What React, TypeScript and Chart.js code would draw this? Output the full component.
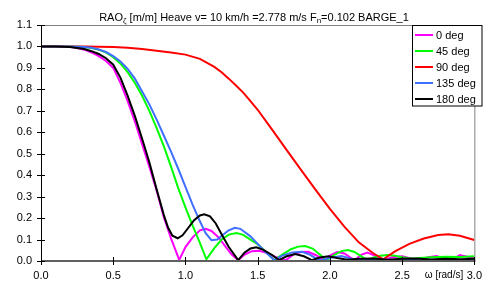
import React, { useEffect, useRef } from "react";
import { Chart, registerables } from "chart.js";

Chart.register(...registerables);

// ---------- data ----------
const seriesLabels = ["0 deg", "45 deg", "90 deg", "135 deg", "180 deg"];
const seriesColors = ["#ff00ff", "#00ff00", "#ff0000", "#3f6fff", "#000000"];

const omega0 = [0, 0.1, 0.2, 0.25, 0.3, 0.35, 0.4, 0.45, 0.5, 0.55, 0.6, 0.65, 0.7, 0.75, 0.8, 0.85, 0.9, 0.957, 1.0, 1.05, 1.1, 1.14, 1.18, 1.23, 1.28, 1.32, 1.365, 1.41, 1.46, 1.51, 1.56, 1.62, 1.694, 1.75, 1.8, 1.85, 1.9, 1.966, 2.0, 2.05, 2.1, 2.17, 2.22, 2.26, 2.31, 2.37, 2.43, 2.5, 2.56, 2.62, 2.68, 2.74, 2.8, 2.84, 2.9, 2.95, 3.0];
const rao0 = [1.0, 1.0, 0.998, 0.993, 0.985, 0.972, 0.955, 0.932, 0.9, 0.83, 0.745, 0.65, 0.545, 0.44, 0.33, 0.205, 0.105, 0.005, 0.065, 0.11, 0.143, 0.15, 0.14, 0.11, 0.065, 0.03, 0.004, 0.03, 0.046, 0.048, 0.038, 0.02, 0.003, 0.032, 0.042, 0.043, 0.028, 0.003, 0.025, 0.042, 0.035, 0.003, 0.03, 0.039, 0.025, 0.003, 0.018, 0.022, 0.012, 0.004, 0.018, 0.023, 0.008, 0.004, 0.028, 0.02, 0.012];

const omega45 = [0, 0.2, 0.3, 0.35, 0.4, 0.45, 0.5, 0.55, 0.6, 0.65, 0.7, 0.75, 0.8, 0.85, 0.9, 0.95, 1.0, 1.05, 1.1, 1.145, 1.2, 1.25, 1.3, 1.354, 1.4, 1.45, 1.5, 1.56, 1.615, 1.67, 1.73, 1.78, 1.83, 1.88, 1.93, 1.978, 2.03, 2.08, 2.125, 2.17, 2.22, 2.26, 2.3, 2.35, 2.4, 2.45, 2.5, 2.55, 2.6, 2.7, 2.8, 2.9, 3.0];
const rao45 = [1.0, 1.0, 0.997, 0.993, 0.985, 0.972, 0.95, 0.92, 0.88, 0.83, 0.77, 0.7, 0.62, 0.535, 0.44, 0.34, 0.25, 0.165, 0.085, 0.008, 0.06, 0.1, 0.123, 0.13, 0.122, 0.1, 0.078, 0.04, 0.004, 0.03, 0.055, 0.067, 0.07, 0.058, 0.03, 0.003, 0.028, 0.046, 0.051, 0.042, 0.02, 0.003, 0.015, 0.025, 0.028, 0.024, 0.017, 0.012, 0.013, 0.017, 0.02, 0.019, 0.022];

const omega90 = [0, 0.3, 0.5, 0.6, 0.7, 0.8, 0.9, 1.0, 1.1, 1.2, 1.25, 1.3, 1.35, 1.4, 1.45, 1.5, 1.6, 1.7, 1.8, 1.9, 2.0, 2.1, 2.2, 2.3, 2.37, 2.45, 2.55, 2.65, 2.75, 2.82, 2.9, 3.0];
const rao90 = [1.0, 1.0, 0.998, 0.994, 0.988, 0.98, 0.972, 0.962, 0.942, 0.905, 0.88, 0.85, 0.818, 0.785, 0.745, 0.705, 0.612, 0.518, 0.425, 0.333, 0.243, 0.16, 0.087, 0.036, 0.008, 0.045, 0.08, 0.105, 0.121, 0.125, 0.118, 0.098];

const omega135 = [0, 0.2, 0.3, 0.35, 0.4, 0.45, 0.5, 0.55, 0.6, 0.65, 0.7, 0.75, 0.8, 0.85, 0.9, 0.95, 1.0, 1.05, 1.1, 1.14, 1.18, 1.22, 1.26, 1.3, 1.342, 1.38, 1.45, 1.5, 1.56, 1.615, 1.67, 1.74, 1.807, 1.86, 1.9, 1.94, 2.0, 2.08, 2.14, 2.2, 2.3, 2.4, 2.5, 2.6, 2.7, 2.8, 2.9, 3.0];
const rao135 = [1.0, 1.0, 0.998, 0.994, 0.986, 0.974, 0.955, 0.93, 0.895, 0.85, 0.79, 0.73, 0.66, 0.585, 0.51, 0.43, 0.345, 0.262, 0.185, 0.13, 0.097, 0.1, 0.122, 0.143, 0.155, 0.15, 0.115, 0.08, 0.038, 0.004, 0.025, 0.04, 0.043, 0.03, 0.014, 0.003, 0.015, 0.023, 0.012, 0.004, 0.009, 0.005, 0.008, 0.005, 0.006, 0.008, 0.005, 0.005];

const omega180 = [0, 0.1, 0.2, 0.3, 0.35, 0.4, 0.45, 0.5, 0.55, 0.6, 0.65, 0.7, 0.75, 0.8, 0.85, 0.88, 0.91, 0.946, 0.98, 1.02, 1.06, 1.1, 1.13, 1.17, 1.21, 1.25, 1.3, 1.365, 1.41, 1.45, 1.49, 1.54, 1.6, 1.648, 1.7, 1.76, 1.82, 1.875, 1.93, 1.99, 2.05, 2.12, 2.2, 2.3, 2.4, 2.5, 2.6, 2.7, 2.8, 2.9, 3.0];
const rao180 = [1.0, 1.0, 0.997, 0.988, 0.978, 0.965, 0.945, 0.915, 0.855, 0.77, 0.675, 0.57, 0.46, 0.335, 0.215, 0.155, 0.118, 0.106, 0.12, 0.155, 0.19, 0.212, 0.218, 0.208, 0.175, 0.125, 0.065, 0.004, 0.04, 0.058, 0.064, 0.052, 0.028, 0.004, 0.022, 0.033, 0.022, 0.004, 0.016, 0.022, 0.014, 0.006, 0.01, 0.012, 0.006, 0.01, 0.012, 0.007, 0.011, 0.008, 0.01];

const xTickValues = [0, 0.5, 1.0, 1.5, 2.0, 2.5, 3.0];
const yTickValues = [0, 0.1, 0.2, 0.3, 0.4, 0.5, 0.6, 0.7, 0.8, 0.9, 1.0, 1.1];
const xAxisTitle = "ω [rad/s]";
// title pieces: [text, isSubscript]
const titlePieces: [string, boolean][] = [
  ["RAO", false],
  ["ζ", true],
  [" [m/m] Heave v= 10 km/h =2.778 m/s F", false],
  ["n", true],
  ["=0.102 BARGE_1", false],
];

const FONT = "'Liberation Sans', Arial, Helvetica, sans-serif";

const pairs = (xs: number[], ys: number[]) => xs.map((x, i) => ({ x, y: ys[i] }));
const allOmega = [omega0, omega45, omega90, omega135, omega180];
const allRao = [rao0, rao45, rao90, rao135, rao180];

const decorPlugin = {
  id: "decor",
  afterDraw(chart: any) {
    const ctx = chart.ctx;
    const { left, right, top, bottom } = chart.chartArea;
    const xs = chart.scales.x;
    const ys = chart.scales.y;
    ctx.save();
    // frame
    ctx.lineWidth = 1;
    ctx.strokeStyle = "#808080";
    ctx.beginPath();
    ctx.moveTo(left, top + 0.5);
    ctx.lineTo(right + 0.5, top + 0.5);
    ctx.lineTo(right + 0.5, bottom);
    ctx.stroke();
    ctx.strokeStyle = "#000";
    ctx.beginPath();
    ctx.moveTo(left + 0.5, top);
    ctx.lineTo(left + 0.5, bottom);
    ctx.stroke();
    ctx.strokeStyle = "#606060";
    ctx.lineWidth = 2;
    ctx.beginPath();
    ctx.moveTo(left, bottom);
    ctx.lineTo(right + 1, bottom);
    ctx.stroke();
    // ticks
    ctx.lineWidth = 1;
    ctx.strokeStyle = "#000";
    for (const v of yTickValues) {
      const py = Math.round(ys.getPixelForValue(v)) + 0.5;
      ctx.beginPath();
      ctx.moveTo(left - 4, py);
      ctx.lineTo(left + 4, py);
      ctx.stroke();
    }
    for (const v of xTickValues) {
      const px = Math.round(xs.getPixelForValue(v)) + 0.5;
      ctx.beginPath();
      ctx.moveTo(px, bottom - 4);
      ctx.lineTo(px, bottom + 4);
      ctx.stroke();
    }
    // x-axis title
    ctx.fillStyle = "#000";
    ctx.font = `10px ${FONT}`;
    ctx.textAlign = "center";
    ctx.textBaseline = "middle";
    ctx.fillText(xAxisTitle, 444, 275);
    // chart title with subscripts
    const mainFont = `11px ${FONT}`;
    const subFont = `8px ${FONT}`;
    let total = 0;
    for (const [t, sub] of titlePieces) {
      ctx.font = sub ? subFont : mainFont;
      total += ctx.measureText(t).width;
    }
    let tx = 254 - total / 2;
    ctx.textAlign = "left";
    ctx.textBaseline = "alphabetic";
    for (const [t, sub] of titlePieces) {
      ctx.font = sub ? subFont : mainFont;
      ctx.fillText(t, tx, sub ? 23 : 20.5);
      tx += ctx.measureText(t).width;
    }
    // legend
    const lx = 412.5, ly = 25.5, lw = 69.5, lh = 80.5;
    ctx.fillStyle = "#fff";
    ctx.fillRect(lx, ly, lw, lh);
    ctx.strokeStyle = "#000";
    ctx.lineWidth = 1;
    ctx.strokeRect(lx, ly, lw, lh);
    ctx.font = `11px ${FONT}`;
    ctx.textBaseline = "middle";
    ctx.textAlign = "left";
    seriesLabels.forEach((lab, i) => {
      const yy = 35 + i * 16;
      ctx.strokeStyle = seriesColors[i];
      ctx.lineWidth = 2;
      ctx.beginPath();
      ctx.moveTo(415, yy);
      ctx.lineTo(433, yy);
      ctx.stroke();
      ctx.fillStyle = "#000";
      ctx.fillText(lab, 436, yy + 0.5);
    });
    ctx.restore();
  },
};

export default function App() {
  const ref = useRef<HTMLCanvasElement | null>(null);
  useEffect(() => {
    document.body.style.margin = "0";
    const canvas = ref.current!;
    const chart = new Chart(canvas, {
      type: "line",
      data: {
        datasets: seriesLabels.map((lab, i) => ({
          label: lab,
          data: pairs(allOmega[i], allRao[i]),
          borderColor: seriesColors[i],
          backgroundColor: seriesColors[i],
          borderWidth: 2,
          pointRadius: 0,
          tension: 0,
          fill: false,
          order: 4 - i,
        })),
      },
      options: {
        responsive: false,
        animation: false,
        devicePixelRatio: 1,
        layout: { padding: { left: 0, top: 25, right: 8, bottom: 0 } },
        plugins: {
          legend: { display: false },
          title: { display: false },
          tooltip: { enabled: false },
        },
        scales: {
          x: {
            type: "linear",
            min: 0,
            max: 3,
            grid: { display: false, drawTicks: false },
            border: { display: false },
            afterBuildTicks: (s: any) => {
              s.ticks = xTickValues.map((v) => ({ value: v }));
            },
            afterFit: (s: any) => {
              s.height = 24;
            },
            ticks: {
              autoSkip: false,
              maxRotation: 0,
              padding: 8,
              color: "#000",
              font: { family: FONT, size: 11 },
              callback: (v: any) => Number(v).toFixed(1),
            },
          },
          y: {
            type: "linear",
            min: 0,
            max: 1.1,
            grid: { display: false, drawTicks: false },
            border: { display: false },
            afterBuildTicks: (s: any) => {
              s.ticks = yTickValues.map((v) => ({ value: v }));
            },
            afterFit: (s: any) => {
              s.width = 41;
            },
            ticks: {
              autoSkip: false,
              padding: 9,
              color: "#000",
              font: { family: FONT, size: 11 },
              callback: (v: any) => Number(v).toFixed(1),
            },
          },
        },
      },
      plugins: [decorPlugin],
    });
    return () => chart.destroy();
  }, []);
  return (
    <div style={{ position: "absolute", left: 0, top: 0, width: 490, height: 285, background: "#fff" }}>
      <canvas ref={ref} width={490} height={285} style={{ display: "block" }} />
    </div>
  );
}
